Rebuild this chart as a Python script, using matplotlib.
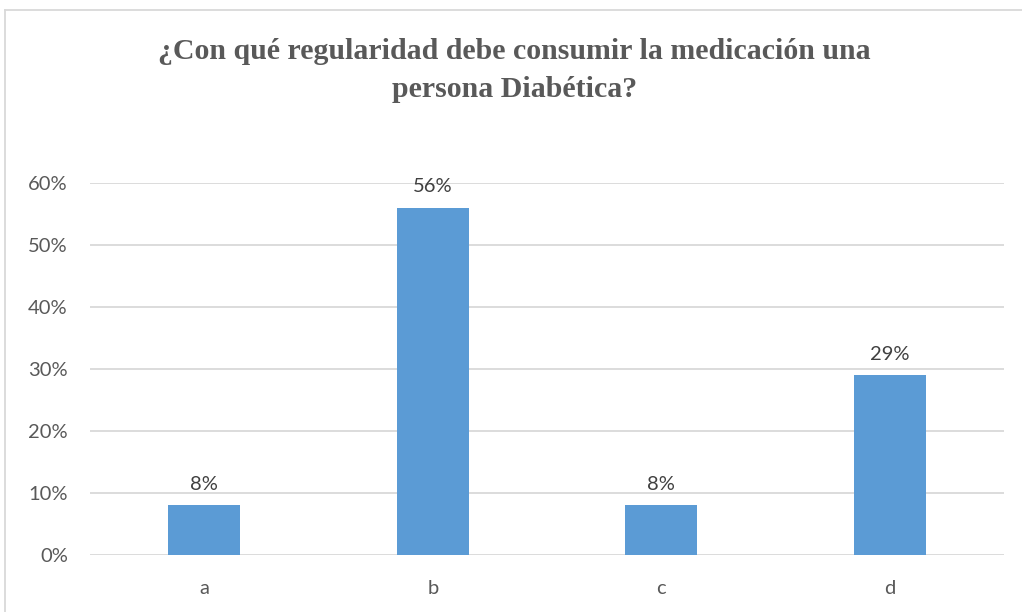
import matplotlib.pyplot as plt
from matplotlib.lines import Line2D
from matplotlib.ticker import PercentFormatter

# respuestas de la encuesta
opciones = ["a", "b", "c", "d"]
porcentajes = [8, 56, 8, 29]
etiquetas = ["8%", "56%", "8%", "29%"]
marcas_y = [0, 10, 20, 30, 40, 50, 60]

gris = "#595959"
azul = "#5B9BD5"

fig = plt.figure(figsize=(10.22, 6.12), dpi=100)
ax = fig.add_axes([0.0881, 0.0931, 0.8943, 0.6078])

x = range(len(opciones))
barras = ax.bar(x, porcentajes, width=0.315, color=azul, zorder=3)

for b, txt in zip(barras, etiquetas):
    ax.annotate(txt, (b.get_x() + b.get_width() / 2, b.get_height()),
                xytext=(0, 9), textcoords="offset points", ha="center", va="bottom",
                fontsize=14.5, color="#404040", family="Lato", clip_on=False)

ax.set_xlim(-0.5, 3.5)
ax.set_ylim(0, 60)
ax.set_yticks(marcas_y)
ax.yaxis.set_major_formatter(PercentFormatter(decimals=0))
ax.set_xticks(list(x))
ax.set_xticklabels(opciones)
ax.grid(axis="y", color="#D9D9D9", linewidth=1.3, zorder=0)
ax.tick_params(length=0, labelsize=14.5, labelcolor=gris)
ax.tick_params(axis="y", pad=16)
ax.tick_params(axis="x", pad=18)
for lbl in ax.get_xticklabels() + ax.get_yticklabels():
    lbl.set_family("Lato")
for s in ax.spines.values():
    s.set_visible(False)

fig.text(0.503, 0.885, "¿Con qué regularidad debe consumir la medicación una\npersona Diabética?",
         ha="center", va="center", fontsize=21.5, fontweight="bold", color=gris,
         family="Liberation Serif", linespacing=1.52)

# marco del gráfico
fig.add_artist(Line2D([0.005, 0.005], [0, 0.984], transform=fig.transFigure, color="#D9D9D9", lw=1.3))
fig.add_artist(Line2D([0.005, 1], [0.984, 0.984], transform=fig.transFigure, color="#D9D9D9", lw=1.3))

fig.savefig("out.png", dpi=100)
